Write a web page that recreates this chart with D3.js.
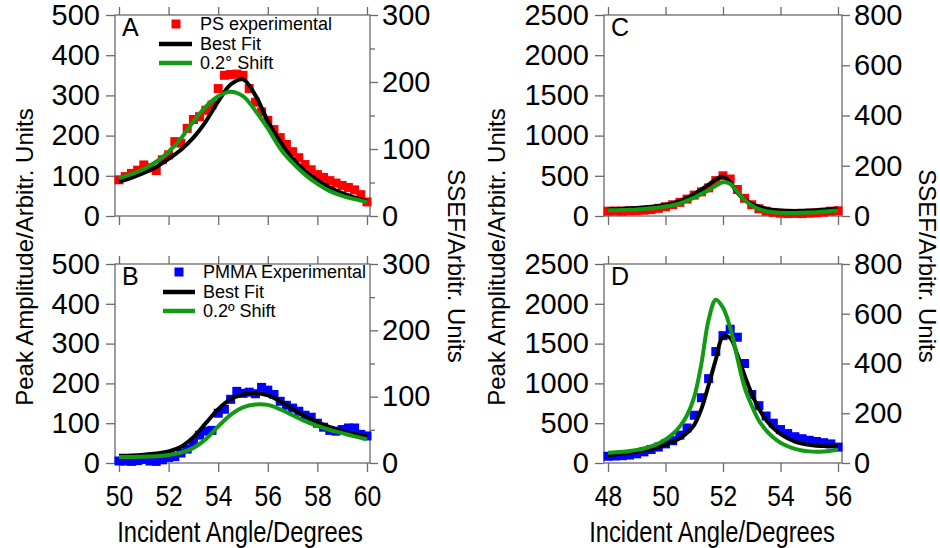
<!DOCTYPE html>
<html><head><meta charset="utf-8">
<script src="https://cdn.jsdelivr.net/npm/d3@7"></script>
<style>
body{margin:0;background:#fff;}
svg{display:block;}
text{font-family:"Liberation Sans",Arial,sans-serif;fill:#000;}
</style>
</head><body>
<svg id="c" width="940" height="548"></svg>
<script>
// ---------- data ----------
const angleABpts = [50,50.25,50.5,50.75,51,51.25,51.5,51.75,52,52.25,52.5,52.75,53,53.25,53.5,53.75,54,54.25,54.5,54.75,55,55.25,55.5,55.75,56,56.25,56.5,56.75,57,57.25,57.5,57.75,58,58.25,58.5,58.75,59,59.25,59.5,59.75,60];
const angleABfit = [50,50.5,51,51.5,52,52.5,53,53.5,54,54.5,55,55.5,56,56.5,57,57.5,58,58.5,59,59.5,60];
const psExp   = [90,98,106,114,127,120,113,140,152,185,181,218,240,247,263,276,317,350,352,353,350,317,283,259,238,215,195,178,160,145,128,115,103,96,88,82,76,71,65,53,35];
const psFit   = [85,95,107,122,142,165,195,235,285,327,340,300,236,185,143,112,89,71,57,46,36];
const psShift = [94,104,117,135,160,193,235,272,298,309,298,262,218,168,132,103,80,62,50,42,35];
const pmmaExp   = [5,5,4,6,9,5,4,8,14,16,25,35,50,70,80,82,125,135,160,180,175,178,174,190,183,172,155,145,138,130,120,115,100,90,82,80,84,88,88,72,68];
const pmmaFit   = [18,19,21,24,29,41,65,100,135,160,172,176,170,155,136,118,103,90,80,73,67];
const pmmaShift = [15,15,16,17,20,26,38,60,92,121,140,147,146,135,120,105,93,83,75,67,60];

const angleCD = [48,48.25,48.5,48.75,49,49.25,49.5,49.75,50,50.25,50.5,50.75,51,51.25,51.5,51.75,52,52.25,52.5,52.75,53,53.25,53.5,53.75,54,54.25,54.5,54.75,55,55.25,55.5,55.75,56];
const cExp   = [60,62,60,65,68,72,80,95,115,140,170,210,260,300,350,440,500,460,330,220,140,90,60,45,35,30,32,30,35,40,48,60,65];
const cFit   = [80,85,90,95,100,107,115,126,140,160,185,225,275,330,390,455,490,420,290,205,150,115,92,76,68,64,63,65,68,72,78,85,92];
const cShift = [70,72,75,78,82,88,95,105,118,135,158,190,230,275,320,375,420,400,300,200,130,85,60,46,40,38,38,40,43,48,55,62,70];
const dExp   = [85,88,92,100,115,140,170,200,240,280,350,440,600,820,1060,1400,1600,1680,1580,1250,860,720,590,500,420,370,330,305,285,270,255,240,200];
const dFit   = [100,108,118,130,143,158,175,200,230,265,310,380,480,680,980,1300,1590,1570,1360,1100,870,680,540,440,365,310,270,245,228,218,212,212,215];
const dShift = [130,135,142,152,165,183,208,245,295,365,460,600,830,1250,1800,2050,1950,1700,1320,950,720,530,410,320,255,210,178,158,146,142,145,155,170];

const xTicksAB = [50,52,54,56,58,60];
const xTicksCD = [48,50,52,54,56];
const yLeftTicksAB = [0,100,200,300,400,500];
const yRightTicksAB = [0,100,200,300];
const yRightMinorAB = [50,150,250];
const yLeftTicksCD = [0,500,1000,1500,2000,2500];
const yRightTicksCD = [0,200,400,600,800];

// ---------- style ----------
const RED="#ff0000", BLUE="#0000ff", BLACK="#000000", GREEN="#139a13", AX="#6a6a6a";
const fmt = d3.format("d");

const svg = d3.select("#c");

const panels = [
  {id:"A", f:{x0:115,x1:370,y0:15,y1:216}, xr:[119,367], xd:[50,60], xt:xTicksAB, yl:[0,500], ylt:yLeftTicksAB, yr:[0,300], yrt:yRightTicksAB, yrm:yRightMinorAB,
   ptsX:angleABpts, pts:psExp, fitX:angleABfit, fit:psFit, shift:psShift, mk:RED, labels:false},
  {id:"B", f:{x0:115,x1:370,y0:264,y1:463}, xr:[119,367], xd:[50,60], xt:xTicksAB, yl:[0,500], ylt:yLeftTicksAB, yr:[0,300], yrt:yRightTicksAB, yrm:yRightMinorAB,
   ptsX:angleABpts, pts:pmmaExp, fitX:angleABfit, fit:pmmaFit, shift:pmmaShift, mk:BLUE, labels:true},
  {id:"C", f:{x0:604,x1:842,y0:15,y1:216}, xr:[608,838], xd:[48,56], xt:xTicksCD, yl:[0,2500], ylt:yLeftTicksCD, yr:[0,800], yrt:yRightTicksCD, yrm:[],
   ptsX:angleCD, pts:cExp, fitX:angleCD, fit:cFit, shift:cShift, mk:RED, labels:false},
  {id:"D", f:{x0:604,x1:842,y0:264,y1:463}, xr:[608,838], xd:[48,56], xt:xTicksCD, yl:[0,2500], ylt:yLeftTicksCD, yr:[0,800], yrt:yRightTicksCD, yrm:[],
   ptsX:angleCD, pts:dExp, fitX:angleCD, fit:dFit, shift:dShift, mk:BLUE, labels:true}
];

function styleAxis(g){
  g.select(".domain").remove();
  g.selectAll(".tick line").attr("stroke",AX).attr("stroke-width",1.3);
  g.selectAll(".tick text").attr("fill","#000").style("font-family",'"Liberation Sans",Arial,sans-serif');
}

panels.forEach(p=>{
  const f=p.f;
  const x=d3.scaleLinear().domain(p.xd).range(p.xr);
  const yL=d3.scaleLinear().domain(p.yl).range([f.y1,f.y0]);
  const yR=d3.scaleLinear().domain(p.yr).range([f.y1,f.y0]);
  const g=svg.append("g");

  // axes
  g.append("g").attr("transform",`translate(${f.x0},0)`)
    .call(d3.axisLeft(yL).tickValues(p.ylt).tickSize(9).tickPadding(6).tickFormat(fmt))
    .call(styleAxis).selectAll("text").style("font-size","29px");
  g.append("g").attr("transform",`translate(${f.x1},0)`)
    .call(d3.axisRight(yR).tickValues(p.yrt).tickSize(8).tickPadding(4).tickFormat(fmt))
    .call(styleAxis).selectAll("text").style("font-size","29px");
  if(p.yrm.length){
    g.append("g").attr("transform",`translate(${f.x1},0)`)
      .call(d3.axisRight(yR).tickValues(p.yrm).tickSize(5).tickFormat(""))
      .call(styleAxis);
  }
  g.append("g").attr("transform",`translate(0,${f.y0})`)
    .call(d3.axisTop(x).tickValues(p.xt).tickSize(8).tickFormat(""))
    .call(styleAxis);
  const bx=g.append("g").attr("transform",`translate(0,${f.y1})`)
    .call(d3.axisBottom(x).tickValues(p.xt).tickSize(9).tickPadding(13).tickFormat(p.labels?fmt:""))
    .call(styleAxis);
  bx.selectAll("text").style("font-size","30px").attr("transform","scale(0.82,1)");

  // frame
  g.append("rect").attr("x",f.x0).attr("y",f.y0).attr("width",f.x1-f.x0).attr("height",f.y1-f.y0)
    .attr("fill","none").attr("stroke",AX).attr("stroke-width",1.3);

  // markers
  const s=9;
  g.append("g").selectAll("rect").data(p.pts).join("rect")
    .attr("x",(d,i)=>x(p.ptsX[i])-s/2).attr("y",d=>yL(d)-s/2)
    .attr("width",s).attr("height",s).attr("fill",p.mk);

  const line=(arr)=>d3.line().x((d,i)=>x(p.fitX[i])).y(d=>yL(d)).curve(d3.curveCatmullRom.alpha(0.5))(arr);
  g.append("path").attr("d",line(p.fit)).attr("fill","none").attr("stroke",BLACK).attr("stroke-width",4).attr("stroke-linejoin","round");
  g.append("path").attr("d",line(p.shift)).attr("fill","none").attr("stroke",GREEN).attr("stroke-width",4).attr("stroke-linejoin","round");

  g.append("text").attr("x",f.x0+7).attr("y",f.y0+21).style("font-size","25px").text(p.id);
});

// legends
function legend(x0,y0,mk,label,shiftLabel,tx,lx0,lx1){
  const g=svg.append("g");
  g.append("rect").attr("x",x0-4.5).attr("y",y0-4.5).attr("width",9).attr("height",9).attr("fill",mk);
  g.append("text").attr("x",tx).attr("y",y0).attr("dy","0.35em").style("font-size","18px").text(label);
  g.append("line").attr("x1",lx0).attr("x2",lx1).attr("y1",y0+20).attr("y2",y0+20).attr("stroke",BLACK).attr("stroke-width",4.5);
  g.append("text").attr("x",tx).attr("y",y0+20).attr("dy","0.35em").style("font-size","18px").text("Best Fit");
  g.append("line").attr("x1",lx0).attr("x2",lx1).attr("y1",y0+39).attr("y2",y0+39).attr("stroke",GREEN).attr("stroke-width",4.5);
  g.append("text").attr("x",tx).attr("y",y0+39).attr("dy","0.35em").style("font-size","18px").text(shiftLabel);
}
legend(176,24,RED,"PS experimental","0.2° Shift",200,159,192);
legend(179,272,BLUE,"PMMA Experimental","0.2º Shift",203,163,195);

// titles
function vtitle(x,y,rot,t){
  svg.append("text").attr("transform",`translate(${x},${y}) rotate(${rot})`).attr("text-anchor","middle")
    .attr("dy","0.35em").style("font-size","24px").text(t);
}
vtitle(25,257,-90,"Peak Amplitude/Arbitr. Units");
vtitle(497,257,-90,"Peak Amplitude/Arbitr. Units");
vtitle(456,266,90,"SSEF/Arbitr. Units");
vtitle(927,266,90,"SSEF/Arbitr. Units");
function xtitle(x,y,t){
  svg.append("g").attr("transform",`translate(${x},${y}) scale(0.82,1)`)
    .append("text").attr("text-anchor","middle").style("font-size","29px").text(t);
}
xtitle(240,542,"Incident Angle/Degrees");
xtitle(712,542,"Incident Angle/Degrees");
</script>
</body></html>
